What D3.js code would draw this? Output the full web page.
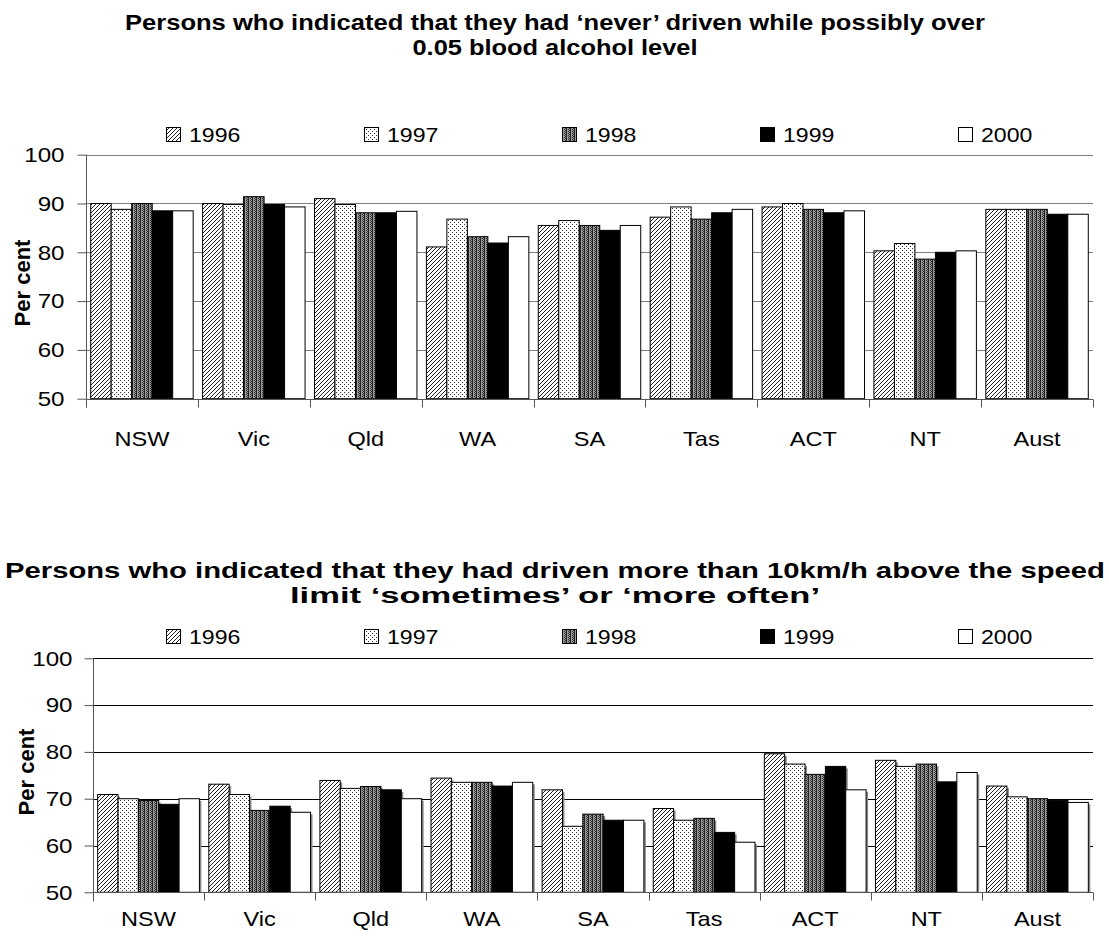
<!DOCTYPE html>
<html>
<head>
<meta charset="utf-8">
<script src="https://cdn.jsdelivr.net/npm/d3@7"></script>
<style>
  body { margin: 0; background: #fff; }
  text { font-family: Arial, 'Liberation Sans', sans-serif; fill: #000; }
</style>
</head>
<body>
<div id="target"></div>
<script>
const width = 1109;
const height = 945;

const states = ['NSW', 'Vic', 'Qld', 'WA', 'SA', 'Tas', 'ACT', 'NT', 'Aust'];
const years = ['1996', '1997', '1998', '1999', '2000'];
const yTicks = [50, 60, 70, 80, 90, 100];

// 'never' driven over 0.05, per cent, in state order
const alcohol1996 = [90.0, 90.0, 91.0, 81.1, 85.5, 87.2, 89.3, 80.3, 88.8];
const alcohol1997 = [88.8, 89.8, 89.8, 86.8, 86.5, 89.3, 90.0, 81.8, 88.8];
const alcohol1998 = [90.0, 91.4, 88.1, 83.2, 85.5, 86.8, 88.8, 78.6, 88.8];
const alcohol1999 = [88.5, 89.8, 88.1, 81.9, 84.5, 88.1, 88.1, 80.0, 87.8];
const alcohol2000 = [88.5, 89.3, 88.4, 83.2, 85.5, 88.8, 88.5, 80.3, 87.8];

// more than 10km/h over the limit 'sometimes' or 'more often'
const speed1996 = [70.9, 73.1, 73.9, 74.4, 71.9, 67.9, 79.6, 78.2, 72.7];
const speed1997 = [70.0, 70.9, 72.2, 73.5, 64.1, 65.4, 77.4, 76.9, 70.4];
const speed1998 = [69.6, 67.5, 72.6, 73.5, 66.7, 65.8, 75.2, 77.4, 70.0];
const speed1999 = [68.8, 68.4, 71.9, 72.7, 65.4, 62.8, 76.9, 73.6, 69.7];
const speed2000 = [70.0, 67.1, 70.0, 73.5, 65.4, 60.7, 71.9, 75.6, 69.2];

const alcoholTitle = ['Persons who indicated that they had \u2018never\u2019 driven while possibly over', '0.05 blood alcohol level'];
const speedTitle = ['Persons who indicated that they had driven more than 10km/h above the speed', 'limit \u2018sometimes\u2019 or \u2018more often\u2019'];

const svg = d3.select('#target').append('svg').attr('width', width).attr('height', height);

// the source is a little wider than normal Arial
function stretch(sel, k) {
  sel.each(function () {
    const w = this.getComputedTextLength();
    d3.select(this).attr('textLength', w * k).attr('lengthAdjust', 'spacingAndGlyphs');
  });
}

// fill patterns for the five years
const defs = svg.append('defs');

let p = defs.append('pattern').attr('id', 'p1996').attr('patternUnits', 'userSpaceOnUse').attr('width', 4).attr('height', 4);
p.append('rect').attr('width', 4).attr('height', 4).attr('fill', '#fff');
p.append('path').attr('d', 'M0,4L4,0M-1,1L1,-1M3,5L5,3').attr('stroke', '#222').attr('stroke-width', 1);

p = defs.append('pattern').attr('id', 'p1997').attr('patternUnits', 'userSpaceOnUse').attr('width', 4).attr('height', 4);
p.append('rect').attr('width', 4).attr('height', 4).attr('fill', '#fff');
p.append('rect').attr('x', 0).attr('y', 0).attr('width', 1).attr('height', 1).attr('fill', '#333');
p.append('rect').attr('x', 2).attr('y', 2).attr('width', 1).attr('height', 1).attr('fill', '#333');

p = defs.append('pattern').attr('id', 'p1998').attr('patternUnits', 'userSpaceOnUse').attr('width', 4).attr('height', 2);
p.append('rect').attr('width', 4).attr('height', 2).attr('fill', '#9a9a9a');
p.append('rect').attr('x', 0).attr('width', 1).attr('height', 2).attr('fill', '#222');
p.append('rect').attr('x', 2).attr('y', 0).attr('width', 1).attr('height', 1).attr('fill', '#333');
p.append('rect').attr('x', 3).attr('y', 1).attr('width', 1).attr('height', 1).attr('fill', '#333');

const fills = d3.scaleOrdinal().domain(years)
  .range(['url(#p1996)', 'url(#p1997)', 'url(#p1998)', '#000', '#fff']);

function drawChart(cfg) {
  const g = svg.append('g');

  cfg.title.forEach((line, i) => {
    g.append('text')
      .attr('x', cfg.titleX)
      .attr('y', cfg.titleY[i])
      .attr('text-anchor', 'middle')
      .attr('font-size', 22)
      .attr('font-weight', 'bold')
      .attr('textLength', cfg.titleLen[i])
      .attr('lengthAdjust', 'spacingAndGlyphs')
      .text(line);
  });

  const x = d3.scaleBand().domain(states).range([cfg.left, cfg.right]);
  const x1 = d3.scaleBand().domain(years).range([0, x.bandwidth()]).paddingOuter(0.23);
  const y = d3.scaleLinear().domain([50, 100]).range([cfg.bottom, cfg.top]);

  // gridlines
  g.append('g')
    .selectAll('line')
    .data(yTicks.slice(1))
    .enter()
    .append('line')
    .attr('x1', cfg.left)
    .attr('x2', cfg.right)
    .attr('y1', (d) => Math.round(y(d)) + 0.5)
    .attr('y2', (d) => Math.round(y(d)) + 0.5)
    .attr('stroke', cfg.gridColor);

  const rows = years.map((yr, i) => cfg.series[i].map((v, j) => ({ year: yr, state: states[j], value: v })));
  const bars = rows.flat();

  if (cfg.shadow) {
    g.append('g')
      .selectAll('rect')
      .data(bars)
      .enter()
      .append('rect')
      .attr('x', (d) => x(d.state) + x1(d.year) + 2)
      .attr('y', (d) => y(d.value) + 2)
      .attr('width', x1.bandwidth())
      .attr('height', (d) => y(50) - y(d.value) - 2)
      .attr('fill', '#8a8a8a');
  }

  g.append('g')
    .selectAll('rect')
    .data(bars)
    .enter()
    .append('rect')
    .attr('x', (d) => x(d.state) + x1(d.year))
    .attr('y', (d) => y(d.value))
    .attr('width', x1.bandwidth())
    .attr('height', (d) => y(50) - y(d.value))
    .attr('fill', (d) => fills(d.year))
    .attr('stroke', '#000')
    .attr('stroke-width', 1);

  // y axis
  const yAxis = g.append('g')
    .attr('transform', `translate(${Math.round(cfg.left) + 0.5},0)`)
    .call(d3.axisLeft(y).tickValues(yTicks).tickSize(9).tickPadding(cfg.tickPad));
  yAxis.select('.domain').attr('stroke', '#555').attr('d', `M0,${y(100)}V${y(50) + 9}`);
  yAxis.selectAll('.tick line').attr('stroke', '#555');
  yAxis.selectAll('.tick text').attr('font-size', 21).attr('font-family', 'Arial, Liberation Sans, sans-serif');
  stretch(yAxis.selectAll('.tick text'), 1.15);

  // x axis with ticks between categories
  const xAxis = g.append('g').attr('transform', `translate(0,${Math.round(y(50)) + 0.5})`);
  xAxis.append('line')
    .attr('x1', cfg.left)
    .attr('x2', cfg.right)
    .attr('stroke', '#555');
  xAxis.selectAll('.sep')
    .data(states.slice(1).concat(['end']))
    .enter()
    .append('line')
    .attr('class', 'sep')
    .attr('x1', (d) => Math.round(d === 'end' ? cfg.right : x(d)) + 0.5)
    .attr('x2', (d) => Math.round(d === 'end' ? cfg.right : x(d)) + 0.5)
    .attr('y1', 0)
    .attr('y2', 8)
    .attr('stroke', '#555');
  const labs = xAxis.selectAll('.lab')
    .data(states)
    .enter()
    .append('text')
    .attr('class', 'lab')
    .attr('x', (d) => x(d) + x.bandwidth() / 2)
    .attr('y', cfg.catLabelY - y(50))
    .attr('text-anchor', 'middle')
    .attr('font-size', 21)
    .text((d) => d);
  stretch(labs, 1.12);

  g.append('text')
    .attr('transform', `translate(${cfg.yLabelX},${cfg.yLabelY}) rotate(-90)`)
    .attr('text-anchor', 'middle')
    .attr('font-size', 22)
    .attr('font-weight', 'bold')
    .text('Per cent');

  // legend
  const lx = d3.scalePoint().domain(years).range([166, 958]);
  const item = g.append('g')
    .selectAll('g')
    .data(years)
    .enter()
    .append('g')
    .attr('transform', (d) => `translate(${lx(d)},${cfg.legendY})`);
  item.append('rect')
    .attr('x', 0.5)
    .attr('y', -7.5)
    .attr('width', 14)
    .attr('height', 14)
    .attr('fill', (d) => fills(d))
    .attr('stroke', '#000');
  const ltext = item.append('text')
    .attr('x', 23)
    .attr('y', 7)
    .attr('font-size', 21)
    .text((d) => d);
  stretch(ltext, 1.1);
}

drawChart({
  title: alcoholTitle,
  titleX: 555,
  titleY: [30, 55],
  titleLen: [860, 285],
  series: [alcohol1996, alcohol1997, alcohol1998, alcohol1999, alcohol2000],
  left: 86,
  right: 1093,
  top: 154.7,
  bottom: 398.7,
  gridColor: '#808080',
  shadow: false,
  tickPad: 13,
  legendY: 135,
  catLabelY: 445,
  yLabelX: 30,
  yLabelY: 283,
});

drawChart({
  title: speedTitle,
  titleX: 555,
  titleY: [578, 603],
  titleLen: [1100, 530],
  series: [speed1996, speed1997, speed1998, speed1999, speed2000],
  left: 93,
  right: 1093,
  top: 658.3,
  bottom: 892.3,
  gridColor: '#000',
  shadow: true,
  tickPad: 12,
  legendY: 637,
  catLabelY: 926,
  yLabelX: 34,
  yLabelY: 772,
});
</script>
</body>
</html>
